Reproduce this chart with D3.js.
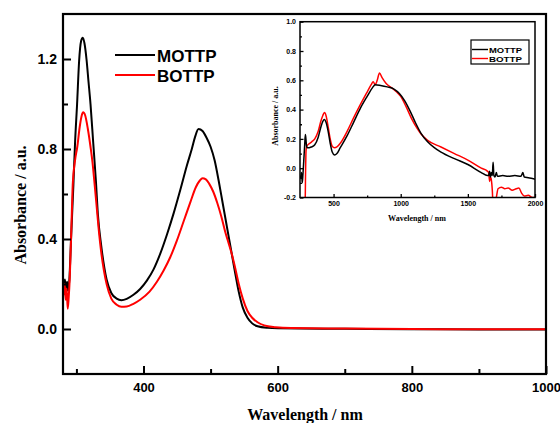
<!DOCTYPE html>
<html>
<head>
<meta charset="utf-8">
<script src="https://cdn.jsdelivr.net/npm/d3@7"></script>
<style>
  html, body { margin: 0; padding: 0; background: #fff; }
  svg { display: block; }
  .tick text { font-family: "Liberation Sans", Arial, sans-serif; font-weight: bold; fill: #000; }
</style>
</head>
<body>
<svg id="chart" width="560" height="423"></svg>
<script>
// ---------------- data ----------------
const seriesNames = ["MOTTP", "BOTTP"];
const seriesColors = ["#000000", "#ff0000"];

// main chart: [wavelength nm, absorbance]
const mottpMain = [[281,0.19],[283,0.22],[284.5,0.16],[286,0.21],[287.5,0.17],[289.5,0.22],[292,0.40],[295.5,0.64],[298,0.83],[301,1.0],[304,1.19],[307,1.28],[309.5,1.295],[312,1.27],[315,1.2],[318,1.1],[321,1.0],[325,0.83],[329,0.66],[332,0.51],[337,0.37],[345,0.22],[352,0.16],[360,0.135],[367,0.128],[375,0.134],[385,0.152],[395,0.178],[405,0.215],[415,0.265],[425,0.335],[435,0.42],[445,0.515],[455,0.62],[465,0.73],[472,0.80],[477,0.855],[482,0.889],[488,0.88],[494,0.85],[500,0.81],[506,0.75],[512,0.66],[518,0.56],[524,0.46],[530,0.36],[536,0.26],[542,0.165],[548,0.095],[555,0.05],[562,0.025],[570,0.012],[585,0.005],[600,0.003],[700,0.001],[800,-0.001],[900,-0.002],[1000,-0.002]];
const bottpMain = [[281,0.15],[282.5,0.2],[284,0.13],[285.5,0.18],[287,0.09],[288.5,0.14],[290,0.22],[292.5,0.45],[294.5,0.64],[298,0.75],[301.3,0.81],[305,0.9],[308,0.95],[310,0.963],[313,0.95],[317,0.89],[321,0.81],[324,0.74],[326.6,0.66],[330,0.55],[333,0.45],[337,0.34],[341,0.26],[345,0.2],[352,0.135],[360,0.108],[367,0.099],[375,0.1],[385,0.112],[395,0.13],[409,0.166],[420,0.21],[430,0.26],[440,0.32],[450,0.395],[460,0.48],[470,0.565],[478,0.63],[484,0.66],[488,0.67],[493,0.665],[498,0.645],[504,0.61],[510,0.56],[516,0.5],[522,0.43],[527,0.38],[531,0.34],[536,0.28],[542,0.2],[548,0.135],[555,0.08],[562,0.05],[570,0.03],[580,0.016],[597,0.008],[620,0.004],[700,0.002],[800,0.0],[900,-0.001],[1000,-0.001]];

// inset chart
const mottpInset = [[251,-0.05],[256,-0.07],[260,-0.03],[264,-0.06],[267,-0.1],[272,-0.04],[278,0.05],[285,0.16],[290,0.23],[294,0.2],[299,0.15],[305,0.14],[318,0.14],[335,0.145],[360,0.16],[385,0.21],[405,0.28],[420,0.32],[432,0.333],[445,0.31],[460,0.25],[475,0.17],[490,0.11],[507,0.09],[525,0.1],[550,0.14],[600,0.22],[650,0.315],[700,0.41],[750,0.49],[790,0.55],[810,0.57],[850,0.565],[900,0.555],[950,0.54],[990,0.51],[1030,0.46],[1070,0.39],[1110,0.31],[1150,0.24],[1200,0.18],[1250,0.14],[1300,0.11],[1400,0.065],[1500,0.025],[1600,-0.03],[1645,-0.05],[1655,-0.05],[1662,-0.02],[1668,-0.06],[1675,-0.03],[1682,-0.05],[1688,0.04],[1694,-0.05],[1702,-0.06],[1712,-0.03],[1720,-0.055],[1760,-0.05],[1800,-0.055],[1850,-0.05],[1895,-0.055],[1910,-0.03],[1920,-0.06],[1950,-0.065],[1980,-0.07],[2000,-0.075]];
const bottpInset = [[268,-0.3],[280,-0.3],[288,-0.25],[292,0.0],[295,0.12],[300,0.15],[315,0.165],[337,0.18],[360,0.2],[385,0.25],[405,0.32],[420,0.36],[432,0.38],[445,0.355],[460,0.28],[475,0.2],[490,0.15],[507,0.14],[525,0.145],[550,0.17],[600,0.25],[650,0.345],[700,0.435],[750,0.52],[780,0.57],[795,0.59],[810,0.57],[825,0.6],[842,0.65],[860,0.62],[890,0.58],[930,0.55],[970,0.52],[1000,0.49],[1040,0.42],[1080,0.34],[1120,0.275],[1150,0.235],[1200,0.19],[1300,0.145],[1400,0.1],[1500,0.055],[1600,0.0],[1645,-0.02],[1655,-0.03],[1662,-0.09],[1668,-0.06],[1675,-0.08],[1682,-0.15],[1688,-0.25],[1700,-0.25],[1712,-0.2],[1725,-0.14],[1750,-0.13],[1775,-0.14],[1800,-0.135],[1830,-0.15],[1860,-0.14],[1880,-0.135],[1900,-0.17],[1920,-0.19],[1950,-0.185],[1980,-0.2],[2000,-0.2]];

// ticks
const mainXMajor = [400, 600, 800, 1000];
const mainXMinor = [300, 500, 700, 900];
const mainYMajor = [0.0, 0.4, 0.8, 1.2];
const mainYMinor = [0.2, 0.6, 1.0];
const insetXMajor = [500, 1000, 1500, 2000];
const insetXMinor = [750, 1250, 1750];
const insetYMajor = [-0.2, 0.0, 0.2, 0.4, 0.6, 0.8, 1.0];
const insetYMinor = [-0.1, 0.1, 0.3, 0.5, 0.7, 0.9];

// ---------------- drawing ----------------
const svg = d3.select("#chart");
svg.append("rect").attr("width", 560).attr("height", 423).attr("fill", "#fff");

const fmt = v => (v < 0 ? "-" : "") + Math.abs(v).toFixed(1);

// ---- main plot ----
const M = {l: 63, r: 546, t: 14, b: 374};
const x = d3.scaleLinear().domain([280, 1000]).range([M.l, M.r]);
const y = d3.scaleLinear().domain([-0.2, 1.4]).range([M.b, M.t]);

const mainData = [mottpMain, bottpMain];
const line = d3.line().x(d => x(d[0])).y(d => y(d[1])).curve(d3.curveMonotoneX);
svg.append("clipPath").attr("id", "mainclip").append("rect")
  .attr("x", M.l).attr("y", M.t).attr("width", M.r - M.l).attr("height", M.b - M.t);
const gm = svg.append("g").attr("clip-path", "url(#mainclip)");
mainData.forEach((s, i) => {
  gm.append("path").datum(s).attr("d", line).attr("fill", "none")
    .attr("stroke", seriesColors[i]).attr("stroke-width", 2).attr("stroke-linejoin", "round");
});

function styleAxis(g, sw) {
  g.select(".domain").remove();
  g.selectAll(".tick line").attr("stroke", "#000").attr("stroke-width", sw);
}

const xAx = svg.append("g").attr("transform", `translate(0,${M.b})`)
  .call(d3.axisBottom(x).tickValues(mainXMajor).tickSize(-8).tickPadding(9).tickFormat(d3.format("d")));
styleAxis(xAx, 2);
xAx.selectAll("text").style("font-size", "13px");
const xAxm = svg.append("g").attr("transform", `translate(0,${M.b})`)
  .call(d3.axisBottom(x).tickValues(mainXMinor).tickSize(-5).tickFormat(""));
styleAxis(xAxm, 2);

const yAx = svg.append("g").attr("transform", `translate(${M.l},0)`)
  .call(d3.axisLeft(y).tickValues(mainYMajor).tickSize(-8).tickPadding(6).tickFormat(fmt));
styleAxis(yAx, 2);
yAx.selectAll("text").style("font-size", "14px");
const yAxm = svg.append("g").attr("transform", `translate(${M.l},0)`)
  .call(d3.axisLeft(y).tickValues(mainYMinor).tickSize(-5).tickFormat(""));
styleAxis(yAxm, 2);

svg.append("rect").attr("x", M.l).attr("y", M.t).attr("width", M.r - M.l).attr("height", M.b - M.t)
  .attr("fill", "none").attr("stroke", "#000").attr("stroke-width", 2.2);

svg.append("text").attr("x", 305).attr("y", 420).attr("text-anchor", "middle")
  .style("font-family", "'Liberation Serif', 'Times New Roman', serif").style("font-weight", "bold").style("font-size", "16px")
  .text("Wavelength / nm");
svg.append("text").attr("transform", "translate(26,205) rotate(-90)").attr("text-anchor", "middle")
  .style("font-family", "'Liberation Serif', 'Times New Roman', serif").style("font-weight", "bold").style("font-size", "16px")
  .text("Absorbance / a.u.");

// main legend
seriesNames.forEach((n, i) => {
  const ly = 55 + i * 20;
  svg.append("line").attr("x1", 115).attr("x2", 155).attr("y1", ly).attr("y2", ly)
    .attr("stroke", seriesColors[i]).attr("stroke-width", 2);
  svg.append("text").attr("x", 157).attr("y", ly + 6.5)
    .style("font-family", "'Liberation Sans', Arial, sans-serif").style("font-weight", "bold").style("font-size", "17px")
    .text(n);
});

// ---- inset ----
const I = {l: 300, r: 535, t: 21.7, b: 197.5};
const ix = d3.scaleLinear().domain([250, 2000]).range([I.l, I.r]);
const iy = d3.scaleLinear().domain([-0.2, 1.0]).range([I.b, I.t]);
svg.append("rect").attr("x", I.l).attr("y", I.t).attr("width", I.r - I.l).attr("height", I.b - I.t).attr("fill", "#fff");
svg.append("clipPath").attr("id", "insetclip").append("rect")
  .attr("x", I.l).attr("y", I.t).attr("width", I.r - I.l).attr("height", I.b - I.t);
const insetData = [mottpInset, bottpInset];
const iline = d3.line().x(d => ix(d[0])).y(d => iy(d[1])).curve(d3.curveMonotoneX);
const gi = svg.append("g").attr("clip-path", "url(#insetclip)");
[1, 0].forEach(i => {
  gi.append("path").datum(insetData[i]).attr("d", iline).attr("fill", "none")
    .attr("stroke", seriesColors[i]).attr("stroke-width", 1.5).attr("stroke-linejoin", "round");
});

const ixAx = svg.append("g").attr("transform", `translate(0,${I.b})`)
  .call(d3.axisBottom(ix).tickValues(insetXMajor).tickSize(-3.5).tickPadding(4).tickFormat(d3.format("d")));
styleAxis(ixAx, 1.3);
ixAx.selectAll("text").style("font-size", "7px");
const ixAxm = svg.append("g").attr("transform", `translate(0,${I.b})`)
  .call(d3.axisBottom(ix).tickValues(insetXMinor).tickSize(-2).tickFormat(""));
styleAxis(ixAxm, 1.3);
const iyAx = svg.append("g").attr("transform", `translate(${I.l},0)`)
  .call(d3.axisLeft(iy).tickValues(insetYMajor).tickSize(-3.5).tickPadding(4).tickFormat(fmt));
styleAxis(iyAx, 1.3);
iyAx.selectAll("text").style("font-size", "7px");
const iyAxm = svg.append("g").attr("transform", `translate(${I.l},0)`)
  .call(d3.axisLeft(iy).tickValues(insetYMinor).tickSize(-2).tickFormat(""));
styleAxis(iyAxm, 1.3);

svg.append("rect").attr("x", I.l).attr("y", I.t).attr("width", I.r - I.l).attr("height", I.b - I.t)
  .attr("fill", "none").attr("stroke", "#000").attr("stroke-width", 1.5);

svg.append("text").attr("x", 417).attr("y", 220.5).attr("text-anchor", "middle")
  .style("font-family", "'Liberation Serif', 'Times New Roman', serif").style("font-weight", "bold").style("font-size", "8px")
  .text("Wavelength / nm");
svg.append("text").attr("transform", "translate(278,116) rotate(-90)").attr("text-anchor", "middle")
  .style("font-family", "'Liberation Serif', 'Times New Roman', serif").style("font-weight", "bold").style("font-size", "8px")
  .text("Absorbance / a.u.");

// inset legend
svg.append("rect").attr("x", 471).attr("y", 40).attr("width", 58).attr("height", 24)
  .attr("fill", "#fff").attr("stroke", "#000").attr("stroke-width", 1.2);
seriesNames.forEach((n, i) => {
  const ly = 49.5 + i * 9;
  svg.append("line").attr("x1", 472).attr("x2", 488).attr("y1", ly).attr("y2", ly)
    .attr("stroke", seriesColors[i]).attr("stroke-width", 1.4);
  svg.append("text").attr("x", 489).attr("y", ly + 3)
    .attr("textLength", 33).attr("lengthAdjust", "spacingAndGlyphs")
    .style("font-family", "'Liberation Sans', Arial, sans-serif").style("font-weight", "bold").style("font-size", "7.5px")
    .text(n);
});
</script>
</body>
</html>
